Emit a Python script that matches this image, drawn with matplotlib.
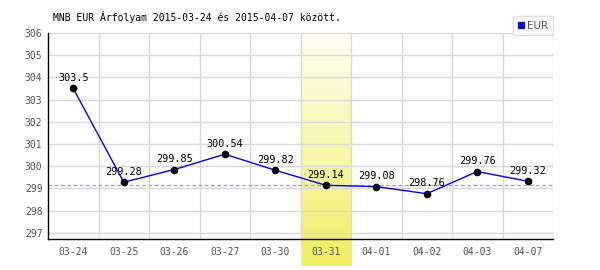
import numpy as np
import matplotlib
matplotlib.use("Agg")
import matplotlib.pyplot as plt
from matplotlib.lines import Line2D

dates = ["03-24", "03-25", "03-26", "03-27", "03-30",
         "03-31", "04-01", "04-02", "04-03", "04-07"]
eur_values = [303.5, 299.28, 299.85, 300.54, 299.82,
              299.14, 299.08, 298.76, 299.76, 299.32]
value_labels = ["303.5", "299.28", "299.85", "300.54", "299.82",
                "299.14", "299.08", "298.76", "299.76", "299.32"]
highlight_date = "03-31"
reference_level = 299.14
y_ticks = [297, 298, 299, 300, 301, 302, 303, 304, 305, 306]

plt.rcParams['font.family'] = ['DejaVu Sans Mono', 'DejaVu Sans']

fig = plt.figure(figsize=(6, 2.7), dpi=100)
ax = fig.add_axes([48 / 600, 1 - 239 / 270, 505 / 600, 206 / 270])
ax.set_facecolor("none")

x = np.arange(len(dates))

# highlighted day: vertical gradient band that runs below the axis
hi = dates.index(highlight_date)
top_c = np.array([1.0, 1.0, 0.97])
bot_c = np.array([0.94, 0.94, 0.39])
t = np.linspace(0, 1, 100)[:, None]
grad = (top_c * (1 - t) + bot_c * t)[:, None, :]
ax.imshow(grad, extent=(hi - 0.5, hi + 0.5, 295.5, 306.2), aspect="auto",
          origin="upper", zorder=0, clip_on=False)
ax.set_xlim(-0.5, len(dates) - 0.5)
ax.set_ylim(296.72, 306.0)

# grid
for yv in y_ticks:
    ax.axhline(yv, color="#d8d8d8", lw=1, zorder=1)
for xb in np.arange(-0.5, len(dates), 1.0)[1:]:
    ax.axvline(xb, color="#d8d8d8", lw=1, zorder=1)

ax.axhline(reference_level, color="#9999ee", lw=0.9, ls=(0, (3, 2)), zorder=2)

ax.plot(x, eur_values, color="#0000ff", lw=1, zorder=3)
ax.plot(x, eur_values, "o", color="black", ms=4.5, zorder=4)
for xi, yv, lab in zip(x, eur_values, value_labels):
    ax.annotate(lab, (xi, yv), xytext=(0, 4), textcoords="offset points",
                ha="center", va="bottom", fontsize=7.3, color="black", zorder=5)

ax.set_xticks(x)
ax.set_xticklabels(dates)
ax.set_yticks(y_ticks)
ax.tick_params(axis="both", length=0, labelsize=7, colors="#555555", pad=6)
ax.tick_params(axis="y", pad=4)
for side in ["top", "right"]:
    ax.spines[side].set_visible(False)
for side in ["left", "bottom"]:
    ax.spines[side].set_color("black")
    ax.spines[side].set_linewidth(1)

fig.text(53 / 600, 1 - 17 / 270, "MNB EUR Árfolyam 2015-03-24 és 2015-04-07 között.",
         fontsize=7, va="center", ha="left", color="black")

handle = Line2D([], [], marker="s", color="#0000ff", ls="none", ms=4.5,
                markeredgecolor="#222266")
leg = fig.legend([handle], ["EUR"], loc="upper right",
                 bbox_to_anchor=(553 / 600, 1 - 16 / 270),
                 prop={"family": "DejaVu Sans", "size": 7.5},
                 frameon=True, fancybox=False, handlelength=0.6,
                 handletextpad=0.3, borderpad=0.45, borderaxespad=0)
leg.get_frame().set_edgecolor("#d8d8d8")
leg.get_frame().set_linewidth(1)
for txt in leg.get_texts():
    txt.set_color("#555555")

fig.savefig("out.png", dpi=100)
